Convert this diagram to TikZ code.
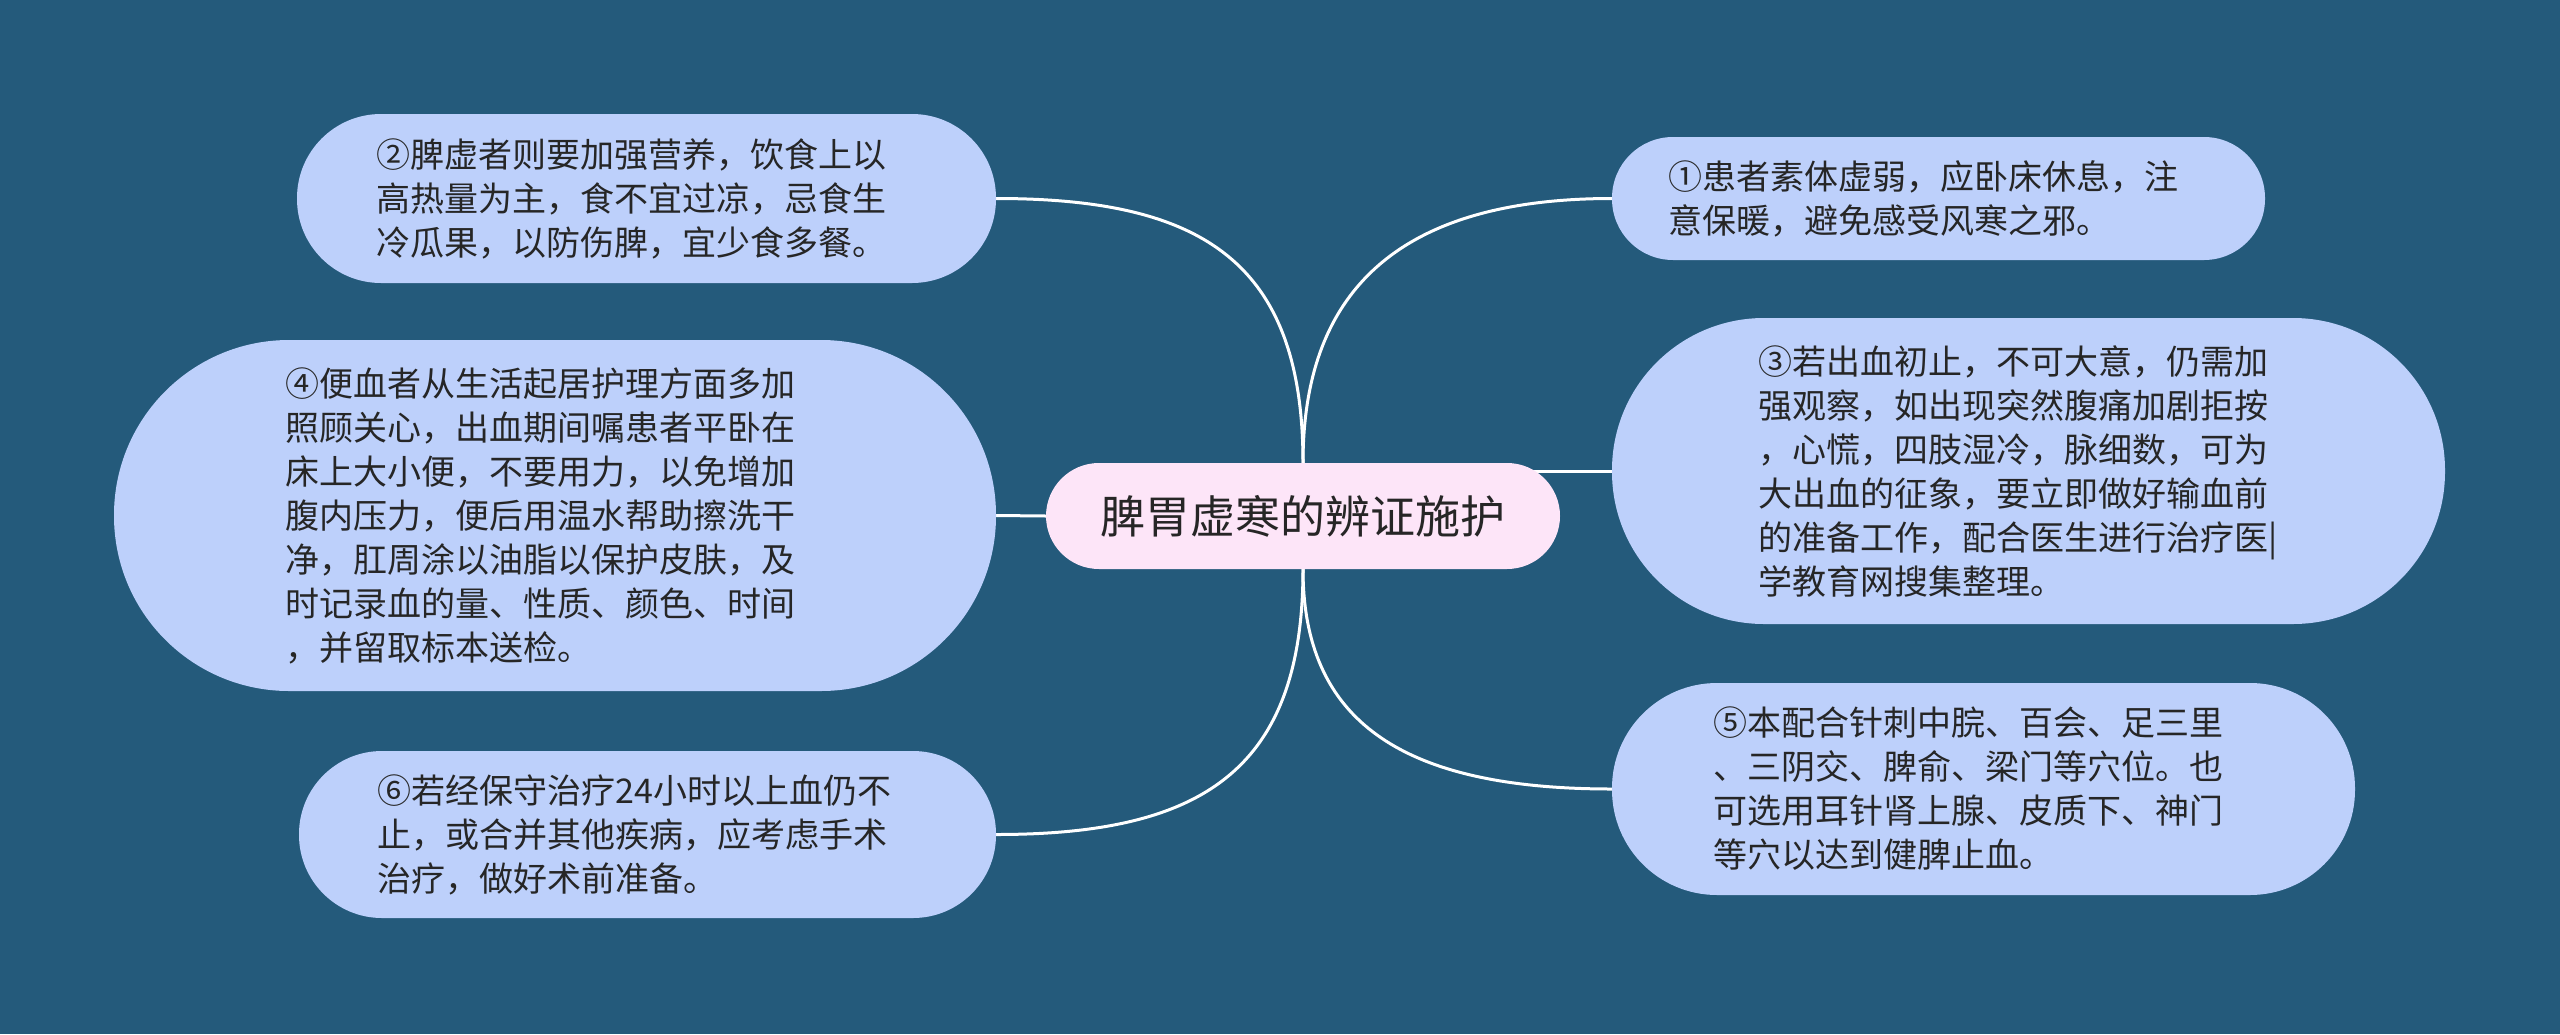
\documentclass[tikz,border=0pt]{standalone}
\usepackage{fontspec}
\newfontfamily\cjk{Noto Sans CJK SC}
\usetikzlibrary{calc}
\definecolor{bgblue}{HTML}{245A7B}
\definecolor{leaf}{HTML}{BDD0FB}
\definecolor{rootfill}{HTML}{FDE5F8}
\definecolor{ink}{HTML}{262626}
\pgfdeclarelayer{bg}\pgfdeclarelayer{edges}
\pgfsetlayers{bg,edges,main}
\begin{document}
\begin{tikzpicture}[x=1pt,y=-1pt,
  leafbox/.style={fill=leaf, draw=none, text=ink, font=\cjk\fontsize{34}{44}\selectfont, align=left, text width=540pt, inner sep=0pt},
  rootbox/.style={fill=rootfill, draw=none, text=ink, font=\cjk\fontsize{45}{54}\selectfont, rounded corners=53pt, minimum width=514pt, minimum height=106pt, inner sep=0pt},
  edge/.style={draw=white, line width=3pt}]
\begin{pgfonlayer}{bg}
\fill[bgblue] (0,0) rectangle (2560,1034);
\end{pgfonlayer}
\node[rootbox] (c) at (1303,516) {脾胃虚寒的辨证施护};
\node[leafbox, minimum width=699pt, minimum height=169pt, rounded corners=84pt] (n2) at (646.5,198.5)
 {②脾虚者则要加强营养，饮食上以\\高热量为主，食不宜过凉，忌食生\\冷瓜果，以防伤脾，宜少食多餐。};
\node[leafbox, minimum width=882pt, minimum height=351pt, rounded corners=175pt] (n4) at (555,515.5)
 {④便血者从生活起居护理方面多加\\照顾关心，出血期间嘱患者平卧在\\床上大小便，不要用力，以免增加\\腹内压力，便后用温水帮助擦洗干\\净，肛周涂以油脂以保护皮肤，及\\时记录血的量、性质、颜色、时间\\，并留取标本送检。};
\node[leafbox, minimum width=697pt, minimum height=167pt, rounded corners=83pt] (n6) at (647.5,834.5)
 {⑥若经保守治疗24小时以上血仍不\\止，或合并其他疾病，应考虑手术\\治疗，做好术前准备。};
\node[leafbox, minimum width=653pt, minimum height=123pt, rounded corners=61pt] (n1) at (1938.5,198.5)
 {①患者素体虚弱，应卧床休息，注\\意保暖，避免感受风寒之邪。};
\node[leafbox, minimum width=833pt, minimum height=306pt, rounded corners=152pt] (n3) at (2028.5,471)
 {③若出血初止，不可大意，仍需加\\强观察，如出现突然腹痛加剧拒按\\，心慌，四肢湿冷，脉细数，可为\\大出血的征象，要立即做好输血前\\的准备工作，配合医生进行治疗医|\\学教育网搜集整理。};
\node[leafbox, minimum width=743pt, minimum height=212pt, rounded corners=105pt] (n5) at (1983.5,789)
 {⑤本配合针刺中脘、百会、足三里\\、三阴交、脾俞、梁门等穴位。也\\可选用耳针肾上腺、皮质下、神门\\等穴以达到健脾止血。};
\begin{pgfonlayer}{edges}
\draw[edge] (c.north) .. controls (1303,260) and (1200,198.5) .. (n2.east);
\draw[edge] (c.west) -- (n4.east);
\draw[edge] (c.south) .. controls (1303,772) and (1200,834.5) .. (n6.east);
\draw[edge] (c.north) .. controls (1303,290) and (1400,198.5) .. (n1.west);
\draw[edge] (c.center |- n3.west) -- (n3.west);
\draw[edge] (c.south) .. controls (1303,720) and (1400,789) .. (n5.west);
\end{pgfonlayer}
\end{tikzpicture}
\end{document}
